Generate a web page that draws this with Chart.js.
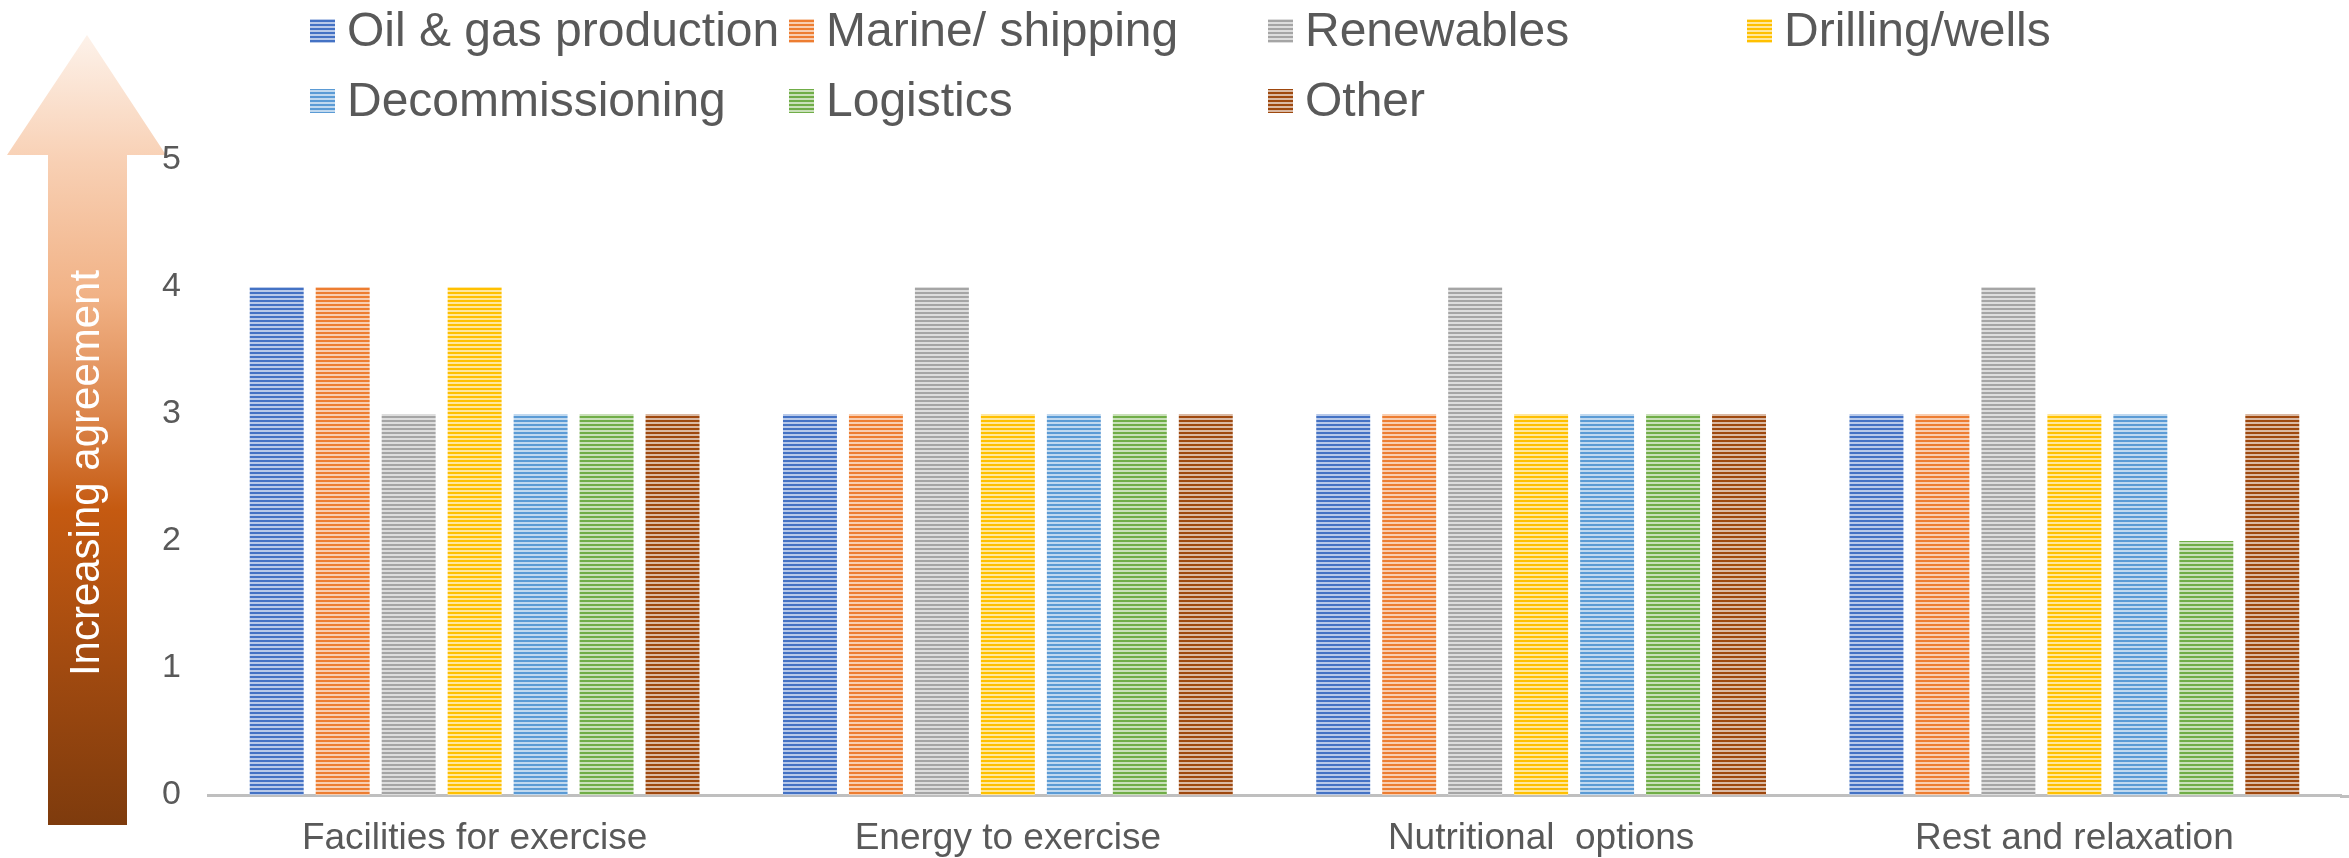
<!DOCTYPE html>
<html>
<head>
<meta charset="utf-8">
<script src="https://cdn.jsdelivr.net/npm/chart.js@4.4.0/dist/chart.umd.min.js"></script>
<style>
  html, body { margin: 0; padding: 0; background: #ffffff; }
  #wrap { width: 2349px; height: 858px; position: relative; }
</style>
</head>
<body>
<div id="wrap"><canvas id="chart" width="2349" height="858"></canvas></div>
<script>
// Survey categories and sector scores (1-5 agreement scale)
const categories = ['Facilities for exercise', 'Energy to exercise', 'Nutritional  options', 'Rest and relaxation'];
const oilGas       = [4, 3, 3, 3];
const marine       = [4, 3, 3, 3];
const renewables   = [3, 4, 4, 4];
const drilling     = [4, 3, 3, 3];
const decommission = [3, 3, 3, 3];
const logistics    = [3, 3, 3, 2];
const other        = [3, 3, 3, 3];

const seriesNames  = ['Oil & gas production', 'Marine/ shipping', 'Renewables', 'Drilling/wells', 'Decommissioning', 'Logistics', 'Other'];
const seriesColors = ['#4472C4', '#ED7D31', '#A5A5A5', '#FFC000', '#5B9BD5', '#70AD47', '#9E480E'];
const yTicks = [0, 1, 2, 3, 4, 5];

const FONT = '"Liberation Sans", Arial, sans-serif';
const TEXT = '#595959';
const AXIS = '#BFBFBF';

function tint(hex, k) {
  const n = parseInt(hex.slice(1), 16);
  const r = (n >> 16) & 255, g = (n >> 8) & 255, b = n & 255;
  const m = c => Math.round(c + (255 - c) * k);
  return `rgb(${m(r)},${m(g)},${m(b)})`;
}

// Narrow horizontal stripe fill
function stripes(color) {
  const c = document.createElement('canvas');
  c.width = 4; c.height = 4;
  const g = c.getContext('2d');
  g.fillStyle = tint(color, 0.62);
  g.fillRect(0, 0, 4, 4);
  g.fillStyle = color;
  g.fillRect(0, 0, 4, 2);
  return g.createPattern(c, 'repeat');
}

const values = [oilGas, marine, renewables, drilling, decommission, logistics, other];
const datasets = values.map((v, i) => ({
  label: seriesNames[i],
  data: v,
  backgroundColor: stripes(seriesColors[i]),
  borderWidth: 0,
  categoryPercentage: 0.866,
  barPercentage: 0.818
}));

// Vertical gradient arrow with rotated caption on the left
const agreementArrow = {
  id: 'agreementArrow',
  beforeDraw(chart) {
    const ctx = chart.ctx;
    const tipX = 87, tipY = 35, headY = 155, headL = 7, headR = 166, shaftL = 48, shaftR = 127, bottom = 825;
    const grad = ctx.createLinearGradient(0, tipY, 0, bottom);
    grad.addColorStop(0.00, '#FDF2EA');
    grad.addColorStop(0.16, '#F8D0B4');
    grad.addColorStop(0.33, '#F1B286');
    grad.addColorStop(0.48, '#DC864C');
    grad.addColorStop(0.60, '#C55A11');
    grad.addColorStop(0.80, '#A14A10');
    grad.addColorStop(1.00, '#7E3B0D');
    ctx.save();
    ctx.beginPath();
    ctx.moveTo(tipX, tipY);
    ctx.lineTo(headR, headY);
    ctx.lineTo(shaftR, headY);
    ctx.lineTo(shaftR, bottom);
    ctx.lineTo(shaftL, bottom);
    ctx.lineTo(shaftL, headY);
    ctx.lineTo(headL, headY);
    ctx.closePath();
    ctx.fillStyle = grad;
    ctx.fill();
    ctx.translate((shaftL + shaftR) / 2, 473);
    ctx.rotate(-Math.PI / 2);
    ctx.fillStyle = '#FFFFFF';
    ctx.font = `42px ${FONT}`;
    ctx.textAlign = 'center';
    ctx.textBaseline = 'middle';
    ctx.fillText('Increasing agreement', 0, 0);
    ctx.restore();
  }
};

// Carry the category axis line on to the right edge of the canvas
const axisRunout = {
  id: 'axisRunout',
  afterDraw(chart) {
    const ctx = chart.ctx, a = chart.chartArea;
    ctx.save();
    ctx.strokeStyle = AXIS;
    ctx.lineWidth = 3;
    ctx.beginPath();
    ctx.moveTo(a.right - 1, a.bottom + 1.5);
    ctx.lineTo(chart.width, a.bottom + 1.5);
    ctx.stroke();
    ctx.restore();
  }
};

// Legend laid out as a fixed grid of four columns
const gridLegend = {
  id: 'gridLegend',
  afterDraw(chart) {
    const ctx = chart.ctx;
    const x0 = 310, colW = 479, rows = [31, 101], box = 25;
    ctx.save();
    ctx.font = `48px ${FONT}`;
    ctx.textBaseline = 'middle';
    ctx.textAlign = 'left';
    chart.data.datasets.forEach((ds, i) => {
      const col = i % 4, row = Math.floor(i / 4);
      const x = x0 + col * colW, y = rows[row];
      ctx.fillStyle = ds.backgroundColor;
      ctx.fillRect(x, y - 12, box, 24);
      ctx.fillStyle = TEXT;
      ctx.fillText(ds.label, x + 37, y + 2);
    });
    ctx.restore();
  }
};

new Chart(document.getElementById('chart'), {
  type: 'bar',
  data: { labels: categories, datasets },
  plugins: [agreementArrow, axisRunout, gridLegend],
  options: {
    responsive: false,
    animation: false,
    layout: { padding: { left: 0, top: 160, right: 8, bottom: 0 } },
    plugins: { legend: { display: false }, tooltip: { enabled: false } },
    scales: {
      x: {
        grid: { display: false, drawTicks: false },
        border: { display: true, color: AXIS, width: 3 },
        ticks: { color: TEXT, font: { family: FONT, size: 37 }, padding: 22, maxRotation: 0 },
        afterFit(scale) { scale.height = 63; }
      },
      y: {
        min: yTicks[0],
        max: yTicks[yTicks.length - 1],
        grid: { display: false, drawTicks: false },
        border: { display: false },
        afterBuildTicks(scale) { scale.ticks = yTicks.map(v => ({ value: v })); },
        ticks: { color: TEXT, font: { family: FONT, size: 34 }, padding: 27 },
        afterFit(scale) { scale.width = 208; }
      }
    }
  }
});
</script>
</body>
</html>
